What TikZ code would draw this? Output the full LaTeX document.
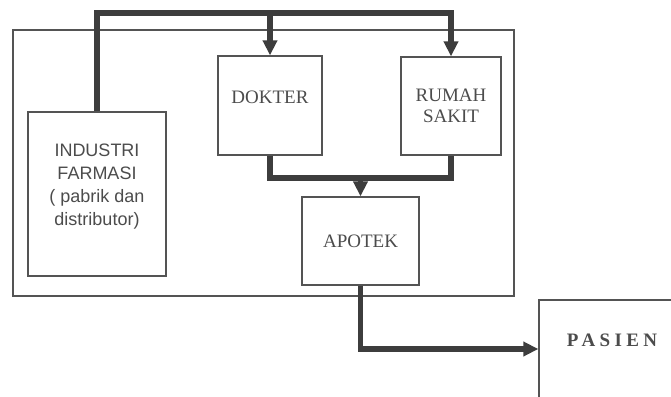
\documentclass[tikz,border=0pt]{standalone}
\usepackage{fontspec}
\setmainfont{Liberation Serif}
\newfontfamily\sansfont{Liberation Sans}
\newfontfamily\widefont[LetterSpace=23]{Liberation Serif}
\usetikzlibrary{arrows.meta}

\begin{document}
\begin{tikzpicture}[x=1pt, y=-1pt,
    box/.style={draw=boxgray, line width=1.3pt, inner sep=0pt, text=txtgray, align=center, font=\fontsize{19}{21}\selectfont},
    flow/.style={draw=flowgray, line width=5.5pt, line join=miter},
    tip/.style={-{Triangle[width=14pt, length=15pt]}}]
	\definecolor{boxgray}{rgb}{0.33, 0.33, 0.33}
	\definecolor{flowgray}{rgb}{0.24, 0.24, 0.24}
	\definecolor{txtgray}{rgb}{0.30, 0.30, 0.30}
    \clip (0,0) rectangle (671,396);
    \fill[white] (0,0) rectangle (671,396);

    % Draw boxes
    \node[box, minimum width=501pt, minimum height=266pt] (wilayah) at (263.5,163) {};
    \node[box, minimum width=138pt, minimum height=164pt, text depth=18pt,
          font=\sansfont\fontsize{18}{23}\selectfont] (industri) at (97,194)
          {INDUSTRI\\FARMASI\\( pabrik dan\\distributor)};
    \node[box, minimum width=104pt, minimum height=99pt, text depth=16pt] (dokter) at (270,105.5) {DOKTER};
    \node[box, minimum width=100pt, minimum height=98pt] (rumah) at (451,106) {RUMAH\\SAKIT};
    \node[box, minimum width=117pt, minimum height=88pt] (apotek) at (360.5,241) {APOTEK};
    \node[box, minimum width=146pt, minimum height=98pt, text depth=18pt,
          font=\widefont\bfseries\fontsize{19}{21}\selectfont] (pasien) at (612,349) {PASIEN};

    \coordinate (atas) at (0,13);
    \coordinate (bawah) at (0,178);

    % Draw flows
    \draw[flow, tip] (industri.north) |- (atas -| rumah.north) -- (rumah.north);
    \draw[flow, tip] (atas -| dokter.north) -- (dokter.north);
    \draw[flow] (dokter.south) |- (bawah -| rumah.south) -- (rumah.south);
    \draw[flow, tip] (bawah -| apotek.north) -- (apotek.north);
    \draw[flow, tip] (apotek.south) |- (pasien.west);
\end{tikzpicture}
\end{document}
